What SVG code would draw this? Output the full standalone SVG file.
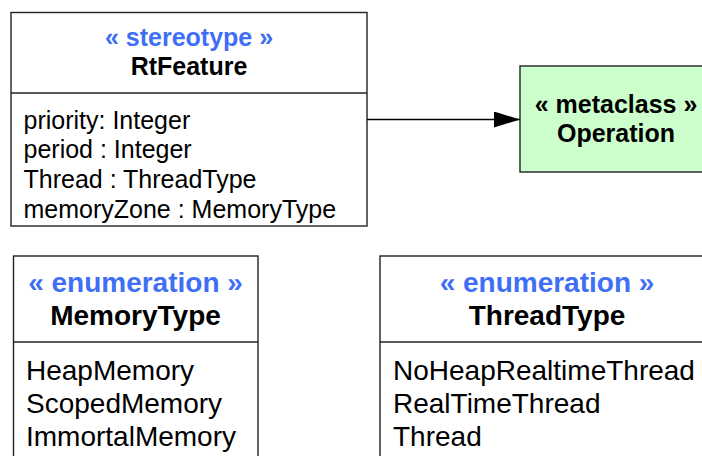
<svg xmlns="http://www.w3.org/2000/svg" width="702" height="456" viewBox="0 0 702 456">
<defs>
<style>
.box{fill:#fff;stroke:#222;stroke-width:1.4}
.meta{fill:#ccffcc;stroke:#222;stroke-width:1.4}
.div{stroke:#222;stroke-width:1.4}
.st{font-family:"Liberation Sans",Arial,sans-serif;font-weight:bold;fill:#3f6ff5;text-anchor:middle}
.nm{font-family:"Liberation Sans",Arial,sans-serif;font-weight:bold;fill:#000;text-anchor:middle}
.it{font-family:"Liberation Sans",Arial,sans-serif;fill:#000}
.conn{stroke:#000;stroke-width:1.3;fill:none}
</style>
<marker id="arr" viewBox="0 0 26 16" refX="26" refY="8" markerWidth="26" markerHeight="16" markerUnits="userSpaceOnUse" orient="auto">
<path d="M0,0 L26,8 L0,16 Z" fill="#000"/>
</marker>
</defs>
<g id="RtFeature">
<rect class="box" x="11" y="12.5" width="356" height="213.5"/>
<line class="div" x1="11" y1="93" x2="367" y2="93"/>
<text class="st" x="189" y="46" font-size="25">« stereotype »</text>
<text class="nm" x="189" y="75" font-size="25">RtFeature</text>
<text class="it" x="23.5" y="128.5" font-size="25">priority: Integer</text>
<text class="it" x="23.5" y="158" font-size="25">period : Integer</text>
<text class="it" x="23.5" y="188" font-size="25">Thread : ThreadType</text>
<text class="it" x="23.5" y="218" font-size="25">memoryZone : MemoryType</text>
</g>
<g id="Operation">
<rect class="meta" x="520" y="66" width="194" height="106"/>
<text class="nm" x="616" y="113" font-size="25">« metaclass »</text>
<text class="nm" x="616" y="142" font-size="25">Operation</text>
</g>
<g id="MemoryType">
<rect class="box" x="13.5" y="256" width="244.5" height="220"/>
<line class="div" x1="13.5" y1="342" x2="258" y2="342"/>
<text class="st" x="135.5" y="292" font-size="28">« enumeration »</text>
<text class="nm" x="135.5" y="325" font-size="28">MemoryType</text>
<text class="it" x="26" y="380" font-size="28">HeapMemory</text>
<text class="it" x="26" y="413" font-size="28">ScopedMemory</text>
<text class="it" x="26" y="446" font-size="28">ImmortalMemory</text>
</g>
<g id="ThreadType">
<rect class="box" x="380" y="256" width="334" height="220"/>
<line class="div" x1="380" y1="342" x2="714" y2="342"/>
<text class="st" x="547" y="292" font-size="28">« enumeration »</text>
<text class="nm" x="547" y="325" font-size="28">ThreadType</text>
<text class="it" x="393" y="380" font-size="28">NoHeapRealtimeThread</text>
<text class="it" x="393" y="413" font-size="28">RealTimeThread</text>
<text class="it" x="393" y="446" font-size="28">Thread</text>
</g>
<g id="connectors">
<line class="conn" x1="367" y1="119.5" x2="520" y2="119.5" marker-end="url(#arr)"/>
</g>
</svg>
